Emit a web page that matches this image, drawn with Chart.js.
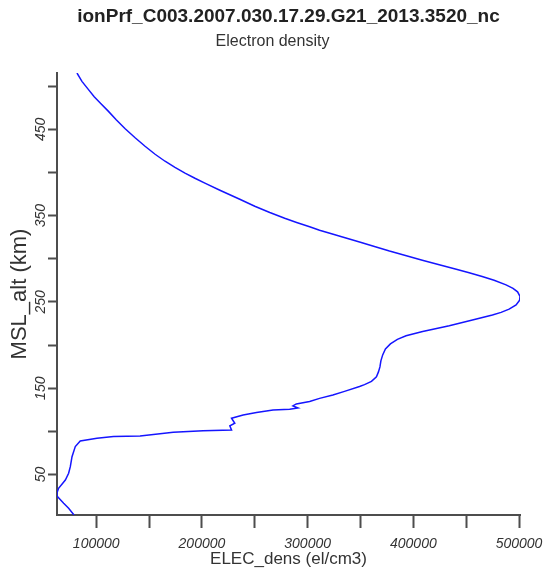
<!DOCTYPE html>
<html>
<head>
<meta charset="utf-8">
<title>ionPrf electron density profile</title>
<script src="https://cdn.jsdelivr.net/npm/chart.js@4/dist/chart.umd.min.js"></script>
<style>
  html, body { margin: 0; padding: 0; background: #ffffff; }
  canvas { display: block; }
</style>
</head>
<body>
<canvas id="profile" width="545" height="583"></canvas>
<script>
// Electron density profile, listed from the ground up
const altitudeKm = [
  3, 10.8, 16.6, 24.2, 28.9, 34, 43.6, 51.4, 59, 70.6, 82.3, 88.9, 92, 93.9,
  94.7, 99, 100.8, 101.6, 106.3, 109.4, 115.2, 119, 121.7, 124.8, 125.6, 127.1,
  129.5, 131.8, 134.5, 138.2, 142.2, 146.3, 151.9, 154.1, 157.9, 163.1, 168.9,
  174.7, 181.7, 188.6, 195.6, 201.4, 206.6, 210.7, 215.7, 222.3, 229, 234.8,
  237.9, 241.6, 246.6, 251.9, 256.5, 261.7, 265.8, 269.8, 275.1, 279.4, 283.8,
  287.8, 293, 298.3, 303.5, 309, 314.3, 319.4, 325.2, 329, 333.1, 337.1, 342.1,
  347, 353.7, 360.9, 369, 379.5, 387.8, 393.4, 399.4, 406.1, 413.1, 421.2,
  430.5, 440.4, 450.8, 461.3, 470.9, 480.6, 487.9, 496.1, 505.7, 515.4
];
const densityElCm3 = [
  79000, 73900, 69200, 63500, 62900, 64400, 70800, 73900, 75500, 77100, 80200,
  84900, 100700, 116300, 141500, 172900, 201200, 228000, 226400, 231100, 228000,
  239000, 251600, 267300, 283000, 290900, 286100, 289300, 301900, 311300, 323900,
  334900, 349100, 353800, 360400, 365100, 367000, 368400, 369300, 371000, 373600,
  378300, 384900, 393100, 408800, 434000, 455900, 474800, 483000, 490600, 497200,
  500500, 500900, 498600, 494300, 487700, 476400, 465100, 452800, 440600, 424500,
  408500, 393400, 377400, 363200, 349100, 333000, 322600, 311300, 301900, 289600,
  278300, 264200, 250000, 235800, 217000, 202800, 193400, 184000, 174500, 165100,
  155700, 146200, 136800, 127400, 118900, 111600, 103800, 98100, 92700, 86500,
  81800
];

// Axis ticks and their labels (unlabelled ticks are minor marks)
const densityTicks = [100000, 150000, 200000, 250000, 300000, 350000, 400000, 450000, 500000];
const densityTickLabels = ['100000', '', '200000', '', '300000', '', '400000', '', '500000'];
const altitudeTicks = [50, 100, 150, 200, 250, 300, 350, 400, 450, 500];
const altitudeTickLabels = ['50', '', '150', '', '250', '', '350', '', '450', ''];

const profilePoints = altitudeKm.map((alt, i) => ({ x: densityElCm3[i], y: alt }));

const FONT = "'Liberation Sans', Arial, Helvetica, sans-serif";
Chart.defaults.font.family = FONT;
Chart.defaults.color = '#333333';

const axisColor = '#4d4d4d';

new Chart(document.getElementById('profile'), {
  type: 'scatter',
  data: {
    datasets: [{
      data: profilePoints,
      showLine: true,
      borderColor: '#1515ff',
      borderWidth: 1.5,
      pointRadius: 0,
      pointHoverRadius: 0,
      tension: 0,
      fill: false
    }]
  },
  options: {
    responsive: false,
    animation: false,
    devicePixelRatio: 1,
    layout: { padding: 0 },
    plugins: {
      legend: { display: false },
      tooltip: { enabled: false },
      title: {
        display: true,
        text: 'ionPrf_C003.2007.030.17.29.G21_2013.3520_nc',
        fullSize: false,
        color: '#222222',
        font: { family: FONT, size: 19, weight: 'bold' },
        padding: { top: 5, bottom: 0 }
      },
      subtitle: {
        display: true,
        text: 'Electron density',
        color: '#333333',
        font: { family: FONT, size: 16, weight: 'normal' },
        padding: { top: 4.6, bottom: 21.4 }
      }
    },
    scales: {
      x: {
        type: 'linear',
        position: 'bottom',
        min: Math.min(...densityElCm3),
        max: Math.max(...densityElCm3),
        afterBuildTicks: (scale) => { scale.ticks = densityTicks.map(v => ({ value: v })); },
        afterFit: (scale) => { scale.height = 68; scale.paddingLeft = 0; scale.paddingRight = 25; },
        grid: {
          display: true,
          drawOnChartArea: false,
          drawTicks: true,
          tickLength: 13,
          tickWidth: 2,
          tickColor: axisColor
        },
        border: { display: true, color: axisColor, width: 2 },
        ticks: {
          autoSkip: false,
          maxRotation: 0,
          minRotation: 0,
          padding: 8,
          color: '#333333',
          font: { family: FONT, size: 14, style: 'italic' },
          callback: (value, index) => densityTickLabels[index]
        },
        title: {
          display: true,
          text: 'ELEC_dens (el/cm3)',
          color: '#333333',
          font: { family: FONT, size: 17 },
          padding: { top: 0, bottom: 13 }
        }
      },
      y: {
        type: 'linear',
        position: 'left',
        min: Math.min(...altitudeKm),
        max: Math.max(...altitudeKm),
        afterBuildTicks: (scale) => { scale.ticks = altitudeTicks.map(v => ({ value: v })); },
        afterFit: (scale) => { scale.width = 57; scale.paddingTop = 0; scale.paddingBottom = 0; },
        grid: {
          display: true,
          drawOnChartArea: false,
          drawTicks: true,
          tickLength: 9,
          tickWidth: 2,
          tickColor: axisColor
        },
        border: { display: true, color: axisColor, width: 2 },
        ticks: {
          autoSkip: false,
          minRotation: 90,
          maxRotation: 90,
          crossAlign: 'center',
          padding: -5,
          color: '#333333',
          font: { family: FONT, size: 14, style: 'italic' },
          callback: (value, index) => altitudeTickLabels[index]
        },
        title: {
          display: true,
          text: 'MSL_alt (km)',
          color: '#333333',
          font: { family: FONT, size: 22 },
          padding: { top: 7, bottom: 0 }
        }
      }
    }
  }
});
</script>
</body>
</html>
